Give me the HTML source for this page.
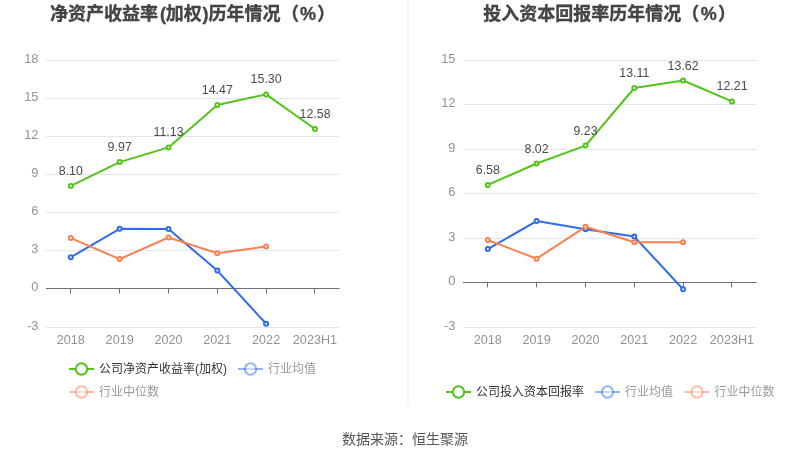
<!DOCTYPE html>
<html lang="zh-CN"><head><meta charset="utf-8"><title>历年情况</title>
<style>
html,body{margin:0;padding:0;background:#fff;}
body{width:810px;height:459px;overflow:hidden;font-family:"Liberation Sans", "Noto Sans CJK SC", sans-serif;}
svg{display:block;}
text{font-family:"Liberation Sans", "Noto Sans CJK SC", sans-serif;}
.ax{font-size:12px;fill:#929292;}
.dl{font-size:12px;fill:#4a4a4a;}
.lg{font-size:12px;}
.tt text{font-size:18px;font-weight:bold;fill:#444;stroke:#444;stroke-width:0.35px;}
.ft{font-size:14px;fill:#555;}
</style></head><body>
<svg width="810" height="459" viewBox="0 0 810 459">
<rect x="0" y="0" width="810" height="459" fill="#fff"/>
<rect x="407" y="0" width="2" height="407" fill="#f5f5f5"/>
<g class="tt">
<text x="50" y="19.5" dx="0 0 0 0 0 0 2 -0.3 0 0.9 0 0 0 0 0.4 1 1.3">净资产收益率(加权)历年情况（%）</text>
<text x="483.2" y="19.5" dx="0 0 0 0 0 0 0 0 0 0 0 0.1 1.45 1.35">投入资本回报率历年情况（%）</text>
</g>
<line x1="46" x2="339.5" y1="60.5" y2="60.5" stroke="#E0E6F1" stroke-width="1"/>
<line x1="46" x2="339.5" y1="98.5" y2="98.5" stroke="#E0E6F1" stroke-width="1"/>
<line x1="46" x2="339.5" y1="136.5" y2="136.5" stroke="#E0E6F1" stroke-width="1"/>
<line x1="46" x2="339.5" y1="174.5" y2="174.5" stroke="#E0E6F1" stroke-width="1"/>
<line x1="46" x2="339.5" y1="212.5" y2="212.5" stroke="#E0E6F1" stroke-width="1"/>
<line x1="46" x2="339.5" y1="250.5" y2="250.5" stroke="#E0E6F1" stroke-width="1"/>
<line x1="46" x2="339.5" y1="327.5" y2="327.5" stroke="#E0E6F1" stroke-width="1"/>
<text transform="translate(38.4 63.3) scale(1.07 1)" text-anchor="end" class="ax">18</text>
<text transform="translate(38.4 101.3) scale(1.07 1)" text-anchor="end" class="ax">15</text>
<text transform="translate(38.4 139.3) scale(1.07 1)" text-anchor="end" class="ax">12</text>
<text transform="translate(38.4 177.3) scale(1.07 1)" text-anchor="end" class="ax">9</text>
<text transform="translate(38.4 215.3) scale(1.07 1)" text-anchor="end" class="ax">6</text>
<text transform="translate(38.4 253.3) scale(1.07 1)" text-anchor="end" class="ax">3</text>
<text transform="translate(38.4 291.3) scale(1.07 1)" text-anchor="end" class="ax">0</text>
<text transform="translate(38.4 330.3) scale(1.07 1)" text-anchor="end" class="ax">-3</text>
<line x1="46" x2="339.5" y1="288.5" y2="288.5" stroke="#6E7079" stroke-width="1"/>
<line x1="70.5" x2="70.5" y1="288.5" y2="293.5" stroke="#6E7079" stroke-width="1"/>
<text transform="translate(70.8 344) scale(1.055 1)" text-anchor="middle" class="ax">2018</text>
<line x1="119.5" x2="119.5" y1="288.5" y2="293.5" stroke="#6E7079" stroke-width="1"/>
<text transform="translate(119.7 344) scale(1.055 1)" text-anchor="middle" class="ax">2019</text>
<line x1="168.5" x2="168.5" y1="288.5" y2="293.5" stroke="#6E7079" stroke-width="1"/>
<text transform="translate(168.5 344) scale(1.055 1)" text-anchor="middle" class="ax">2020</text>
<line x1="217.5" x2="217.5" y1="288.5" y2="293.5" stroke="#6E7079" stroke-width="1"/>
<text transform="translate(217.3 344) scale(1.055 1)" text-anchor="middle" class="ax">2021</text>
<line x1="266.5" x2="266.5" y1="288.5" y2="293.5" stroke="#6E7079" stroke-width="1"/>
<text transform="translate(266.1 344) scale(1.055 1)" text-anchor="middle" class="ax">2022</text>
<line x1="314.5" x2="314.5" y1="288.5" y2="293.5" stroke="#6E7079" stroke-width="1"/>
<text transform="translate(315.0 344) scale(1.055 1)" text-anchor="middle" class="ax">2023H1</text>
<polyline points="70.8,185.9 119.7,162.1 168.5,147.4 217.3,104.9 266.1,94.4 315.0,129.0" fill="none" stroke="#52c41a" stroke-width="2" stroke-linejoin="bevel"/>
<polyline points="70.8,257.2 119.7,228.8 168.5,229.0 217.3,270.6 266.1,323.8" fill="none" stroke="#2f6bec" stroke-width="2" stroke-linejoin="bevel"/>
<polyline points="70.8,238.1 119.7,259.1 168.5,237.5 217.3,253.2 266.1,246.5" fill="none" stroke="#f98050" stroke-width="2" stroke-linejoin="bevel"/>
<circle cx="70.8" cy="185.9" r="2" fill="#fff" stroke="#52c41a" stroke-width="2"/>
<circle cx="119.7" cy="162.1" r="2" fill="#fff" stroke="#52c41a" stroke-width="2"/>
<circle cx="168.5" cy="147.4" r="2" fill="#fff" stroke="#52c41a" stroke-width="2"/>
<circle cx="217.3" cy="104.9" r="2" fill="#fff" stroke="#52c41a" stroke-width="2"/>
<circle cx="266.1" cy="94.4" r="2" fill="#fff" stroke="#52c41a" stroke-width="2"/>
<circle cx="315.0" cy="129.0" r="2" fill="#fff" stroke="#52c41a" stroke-width="2"/>
<circle cx="70.8" cy="257.2" r="2" fill="#fff" stroke="#2f6bec" stroke-width="2"/>
<circle cx="119.7" cy="228.8" r="2" fill="#fff" stroke="#2f6bec" stroke-width="2"/>
<circle cx="168.5" cy="229.0" r="2" fill="#fff" stroke="#2f6bec" stroke-width="2"/>
<circle cx="217.3" cy="270.6" r="2" fill="#fff" stroke="#2f6bec" stroke-width="2"/>
<circle cx="266.1" cy="323.8" r="2" fill="#fff" stroke="#2f6bec" stroke-width="2"/>
<circle cx="70.8" cy="238.1" r="2" fill="#fff" stroke="#f98050" stroke-width="2"/>
<circle cx="119.7" cy="259.1" r="2" fill="#fff" stroke="#f98050" stroke-width="2"/>
<circle cx="168.5" cy="237.5" r="2" fill="#fff" stroke="#f98050" stroke-width="2"/>
<circle cx="217.3" cy="253.2" r="2" fill="#fff" stroke="#f98050" stroke-width="2"/>
<circle cx="266.1" cy="246.5" r="2" fill="#fff" stroke="#f98050" stroke-width="2"/>
<text transform="translate(70.8 174.9) scale(1.035 1)" text-anchor="middle" class="dl">8.10</text>
<text transform="translate(119.7 151.1) scale(1.035 1)" text-anchor="middle" class="dl">9.97</text>
<text transform="translate(168.5 136.4) scale(1.035 1)" text-anchor="middle" class="dl">11.13</text>
<text transform="translate(217.3 93.9) scale(1.035 1)" text-anchor="middle" class="dl">14.47</text>
<text transform="translate(266.1 83.4) scale(1.035 1)" text-anchor="middle" class="dl">15.30</text>
<text transform="translate(315.0 118.0) scale(1.035 1)" text-anchor="middle" class="dl">12.58</text>
<line x1="463" x2="756.5" y1="60.5" y2="60.5" stroke="#E0E6F1" stroke-width="1"/>
<line x1="463" x2="756.5" y1="104.5" y2="104.5" stroke="#E0E6F1" stroke-width="1"/>
<line x1="463" x2="756.5" y1="149.5" y2="149.5" stroke="#E0E6F1" stroke-width="1"/>
<line x1="463" x2="756.5" y1="193.5" y2="193.5" stroke="#E0E6F1" stroke-width="1"/>
<line x1="463" x2="756.5" y1="238.5" y2="238.5" stroke="#E0E6F1" stroke-width="1"/>
<line x1="463" x2="756.5" y1="327.5" y2="327.5" stroke="#E0E6F1" stroke-width="1"/>
<text transform="translate(455.4 63.3) scale(1.07 1)" text-anchor="end" class="ax">15</text>
<text transform="translate(455.4 107.3) scale(1.07 1)" text-anchor="end" class="ax">12</text>
<text transform="translate(455.4 152.3) scale(1.07 1)" text-anchor="end" class="ax">9</text>
<text transform="translate(455.4 196.3) scale(1.07 1)" text-anchor="end" class="ax">6</text>
<text transform="translate(455.4 241.3) scale(1.07 1)" text-anchor="end" class="ax">3</text>
<text transform="translate(455.4 285.3) scale(1.07 1)" text-anchor="end" class="ax">0</text>
<text transform="translate(455.4 330.3) scale(1.07 1)" text-anchor="end" class="ax">-3</text>
<line x1="463" x2="756.5" y1="282.5" y2="282.5" stroke="#6E7079" stroke-width="1"/>
<line x1="487.5" x2="487.5" y1="282.5" y2="287.5" stroke="#6E7079" stroke-width="1"/>
<text transform="translate(487.8 344) scale(1.055 1)" text-anchor="middle" class="ax">2018</text>
<line x1="536.5" x2="536.5" y1="282.5" y2="287.5" stroke="#6E7079" stroke-width="1"/>
<text transform="translate(536.6 344) scale(1.055 1)" text-anchor="middle" class="ax">2019</text>
<line x1="585.5" x2="585.5" y1="282.5" y2="287.5" stroke="#6E7079" stroke-width="1"/>
<text transform="translate(585.5 344) scale(1.055 1)" text-anchor="middle" class="ax">2020</text>
<line x1="634.5" x2="634.5" y1="282.5" y2="287.5" stroke="#6E7079" stroke-width="1"/>
<text transform="translate(634.3 344) scale(1.055 1)" text-anchor="middle" class="ax">2021</text>
<line x1="683.5" x2="683.5" y1="282.5" y2="287.5" stroke="#6E7079" stroke-width="1"/>
<text transform="translate(683.1 344) scale(1.055 1)" text-anchor="middle" class="ax">2022</text>
<line x1="731.5" x2="731.5" y1="282.5" y2="287.5" stroke="#6E7079" stroke-width="1"/>
<text transform="translate(732.0 344) scale(1.055 1)" text-anchor="middle" class="ax">2023H1</text>
<polyline points="487.8,184.9 536.6,163.5 585.5,145.6 634.3,88.0 683.1,80.5 732.0,101.4" fill="none" stroke="#52c41a" stroke-width="2" stroke-linejoin="bevel"/>
<polyline points="487.8,249.1 536.6,221.1 585.5,229.2 634.3,236.6 683.1,289.2" fill="none" stroke="#2f6bec" stroke-width="2" stroke-linejoin="bevel"/>
<polyline points="487.8,240.0 536.6,258.7 585.5,226.8 634.3,242.2 683.1,242.2" fill="none" stroke="#f98050" stroke-width="2" stroke-linejoin="bevel"/>
<circle cx="487.8" cy="184.9" r="2" fill="#fff" stroke="#52c41a" stroke-width="2"/>
<circle cx="536.6" cy="163.5" r="2" fill="#fff" stroke="#52c41a" stroke-width="2"/>
<circle cx="585.5" cy="145.6" r="2" fill="#fff" stroke="#52c41a" stroke-width="2"/>
<circle cx="634.3" cy="88.0" r="2" fill="#fff" stroke="#52c41a" stroke-width="2"/>
<circle cx="683.1" cy="80.5" r="2" fill="#fff" stroke="#52c41a" stroke-width="2"/>
<circle cx="732.0" cy="101.4" r="2" fill="#fff" stroke="#52c41a" stroke-width="2"/>
<circle cx="487.8" cy="249.1" r="2" fill="#fff" stroke="#2f6bec" stroke-width="2"/>
<circle cx="536.6" cy="221.1" r="2" fill="#fff" stroke="#2f6bec" stroke-width="2"/>
<circle cx="585.5" cy="229.2" r="2" fill="#fff" stroke="#2f6bec" stroke-width="2"/>
<circle cx="634.3" cy="236.6" r="2" fill="#fff" stroke="#2f6bec" stroke-width="2"/>
<circle cx="683.1" cy="289.2" r="2" fill="#fff" stroke="#2f6bec" stroke-width="2"/>
<circle cx="487.8" cy="240.0" r="2" fill="#fff" stroke="#f98050" stroke-width="2"/>
<circle cx="536.6" cy="258.7" r="2" fill="#fff" stroke="#f98050" stroke-width="2"/>
<circle cx="585.5" cy="226.8" r="2" fill="#fff" stroke="#f98050" stroke-width="2"/>
<circle cx="634.3" cy="242.2" r="2" fill="#fff" stroke="#f98050" stroke-width="2"/>
<circle cx="683.1" cy="242.2" r="2" fill="#fff" stroke="#f98050" stroke-width="2"/>
<text transform="translate(487.8 173.9) scale(1.035 1)" text-anchor="middle" class="dl">6.58</text>
<text transform="translate(536.6 152.5) scale(1.035 1)" text-anchor="middle" class="dl">8.02</text>
<text transform="translate(585.5 134.6) scale(1.035 1)" text-anchor="middle" class="dl">9.23</text>
<text transform="translate(634.3 77.0) scale(1.035 1)" text-anchor="middle" class="dl">13.11</text>
<text transform="translate(683.1 69.5) scale(1.035 1)" text-anchor="middle" class="dl">13.62</text>
<text transform="translate(732.0 90.4) scale(1.035 1)" text-anchor="middle" class="dl">12.21</text>
<line x1="69" x2="94" y1="369" y2="369" stroke="#52c41a" stroke-width="2" opacity="1"/><circle cx="81.5" cy="369" r="5.7" fill="#fff" stroke="#52c41a" stroke-width="2" opacity="1"/><text x="99" y="372.5" fill="#333" class="lg">公司净资产收益率(加权)</text><line x1="238" x2="263" y1="369" y2="369" stroke="#2f6bec" stroke-width="2" opacity="0.5"/><circle cx="250.5" cy="369" r="5.7" fill="#fff" stroke="#2f6bec" stroke-width="2" opacity="0.5"/><text x="268" y="372.5" fill="#999" class="lg">行业均值</text><line x1="69" x2="94" y1="392" y2="392" stroke="#f98050" stroke-width="2" opacity="0.5"/><circle cx="81.5" cy="392" r="5.7" fill="#fff" stroke="#f98050" stroke-width="2" opacity="0.5"/><text x="99" y="395.5" fill="#999" class="lg">行业中位数</text><line x1="446" x2="471" y1="392" y2="392" stroke="#52c41a" stroke-width="2" opacity="1"/><circle cx="458.5" cy="392" r="5.7" fill="#fff" stroke="#52c41a" stroke-width="2" opacity="1"/><text x="476" y="395.5" fill="#333" class="lg">公司投入资本回报率</text><line x1="595" x2="620" y1="392" y2="392" stroke="#2f6bec" stroke-width="2" opacity="0.5"/><circle cx="607.5" cy="392" r="5.7" fill="#fff" stroke="#2f6bec" stroke-width="2" opacity="0.5"/><text x="625" y="395.5" fill="#999" class="lg">行业均值</text><line x1="684.5" x2="709.5" y1="392" y2="392" stroke="#f98050" stroke-width="2" opacity="0.5"/><circle cx="697.0" cy="392" r="5.7" fill="#fff" stroke="#f98050" stroke-width="2" opacity="0.5"/><text x="714.5" y="395.5" fill="#999" class="lg">行业中位数</text>
<text x="405" y="443.7" text-anchor="middle" class="ft">数据来源：恒生聚源</text>
</svg>
</body></html>
